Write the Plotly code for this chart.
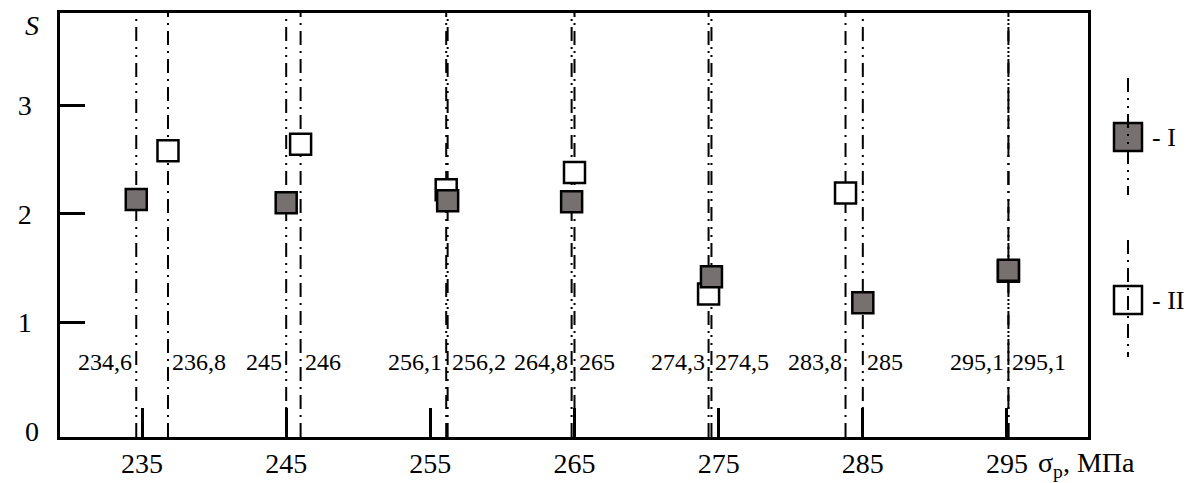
import plotly.graph_objects as go

# Tensile strength sigma_p (MPa) and parameter S for the two series
sigma_I = [234.6, 245, 256.2, 264.8, 274.5, 285, 295.1]
s_I = [2.13, 2.10, 2.12, 2.11, 1.42, 1.18, 1.48]
sigma_II = [236.8, 246, 256.1, 265, 274.3, 283.8, 295.1]
s_II = [2.58, 2.64, 2.22, 2.38, 1.26, 2.19, 1.47]

x_ticks = [235, 245, 255, 265, 275, 285, 295]
y_ticks = [1, 2, 3]

# which side of its line each value label sits on
side_I = ["left", "left", "right", "left", "right", "right", "right"]
side_II = ["right", "right", "left", "right", "left", "left", "left"]

FONT = "Liberation Serif, Times New Roman, serif"
GRAY = "#767170"
DASH_I = "14px,6px,2px,6px,2px,6px"   # dash-dot-dot
DASH_II = "14px,6px,2px,6px"          # dash-dot

W, H = 1195, 483
ML, MR, MT, MB = 60, 107, 13, 46
X_RANGE = [229.31, 300.62]
Y_RANGE = [-0.058, 3.85]
LABEL_Y = 0.63


def px_x(px):
    return (px - ML) / (W - ML - MR)


def px_y(py):
    return (H - MB - py) / (H - MT - MB)


def fmt(v):
    return str(int(v)) if float(v).is_integer() else f"{v}".replace(".", ",")


fig = go.Figure()

# vertical reference lines through every measured strength, full plot height
for xs, dash in ((sigma_II, DASH_II), (sigma_I, DASH_I)):
    for v in xs:
        fig.add_trace(go.Scatter(
            x=[v, v], y=Y_RANGE, mode="lines", showlegend=False, hoverinfo="skip",
            line=dict(color="black", width=2, dash=dash),
        ))

fig.add_trace(go.Scatter(
    x=sigma_II, y=s_II, mode="markers", name="II", showlegend=False,
    marker=dict(symbol="square", size=21, color="white",
                line=dict(color="black", width=2.5)),
))
fig.add_trace(go.Scatter(
    x=sigma_I, y=s_I, mode="markers", name="I", showlegend=False,
    marker=dict(symbol="square", size=21, color=GRAY,
                line=dict(color="black", width=2.5)),
))
# carrier for the secondary y axis holding the "0" and "S" labels
fig.add_trace(go.Scatter(x=[None], y=[None], yaxis="y2", showlegend=False,
                         hoverinfo="skip"))

annotations = []
for xs, sides in ((sigma_I, side_I), (sigma_II, side_II)):
    for v, side in zip(xs, sides):
        annotations.append(dict(
            x=v, y=LABEL_Y, xref="x", yref="y", text=fmt(v), showarrow=False,
            xanchor="right" if side == "left" else "left",
            xshift=-2 if side == "left" else 2,
            font=dict(family=FONT, size=24, color="black"),
        ))

# axis unit next to the last tick label
annotations.append(dict(
    x=px_x(1036), y=px_y(464), xref="paper", yref="paper",
    text="σ<sub>р</sub>, МПа", showarrow=False, xanchor="left", yanchor="middle",
    font=dict(family=FONT, size=28, color="black"),
))

# custom key on the right
shapes = []
for cy, y_top, y_bot, fill, dash, label in (
    (137, 78, 195, GRAY, DASH_I, "- I"),
    (300, 240, 357, "white", DASH_II, "- II"),
):
    shapes.append(dict(
        type="rect", xref="paper", yref="paper",
        x0=px_x(1114), x1=px_x(1142), y0=px_y(cy + 14), y1=px_y(cy - 14),
        fillcolor=fill, line=dict(color="black", width=2.5), layer="above",
    ))
    shapes.append(dict(
        type="line", xref="paper", yref="paper",
        x0=px_x(1128), x1=px_x(1128), y0=px_y(y_top), y1=px_y(y_bot),
        line=dict(color="black", width=2, dash=dash), layer="above",
    ))
    annotations.append(dict(
        x=px_x(1150), y=px_y(cy), xref="paper", yref="paper", text=label,
        showarrow=False, xanchor="left", yanchor="middle",
        font=dict(family=FONT, size=26, color="black"),
    ))

fig.update_layout(
    width=W, height=H,
    margin=dict(l=ML, r=MR, t=MT, b=MB, autoexpand=False),
    plot_bgcolor="white", paper_bgcolor="white",
    font=dict(family=FONT, color="black"),
    xaxis=dict(
        range=X_RANGE, tickvals=x_ticks, ticktext=[str(t) for t in x_ticks],
        ticks="inside", ticklen=29, tickwidth=2.5, tickcolor="black",
        showline=True, linewidth=2.5, linecolor="black", mirror=True,
        showgrid=False, zeroline=False, ticklabelstandoff=0, automargin=False,
        tickfont=dict(family=FONT, size=28, color="black"),
    ),
    yaxis=dict(
        range=Y_RANGE, tickvals=y_ticks, ticktext=[str(t) for t in y_ticks],
        ticks="inside", ticklen=25, tickwidth=2.5, tickcolor="black",
        showline=True, linewidth=2.5, linecolor="black", mirror=True,
        showgrid=False, zeroline=False, ticklabelstandoff=20, automargin=False,
        tickfont=dict(family=FONT, size=28, color="black"),
    ),
    yaxis2=dict(
        range=Y_RANGE, overlaying="y", side="left",
        tickvals=[0, 3.74], ticktext=["0", "<i>S</i>"], ticks="",
        showline=False, showgrid=False, zeroline=False, ticklabelstandoff=20,
        automargin=False,
        tickfont=dict(family=FONT, size=28, color="black"),
    ),
    annotations=annotations,
    shapes=shapes,
)

fig.write_html("out.html")
